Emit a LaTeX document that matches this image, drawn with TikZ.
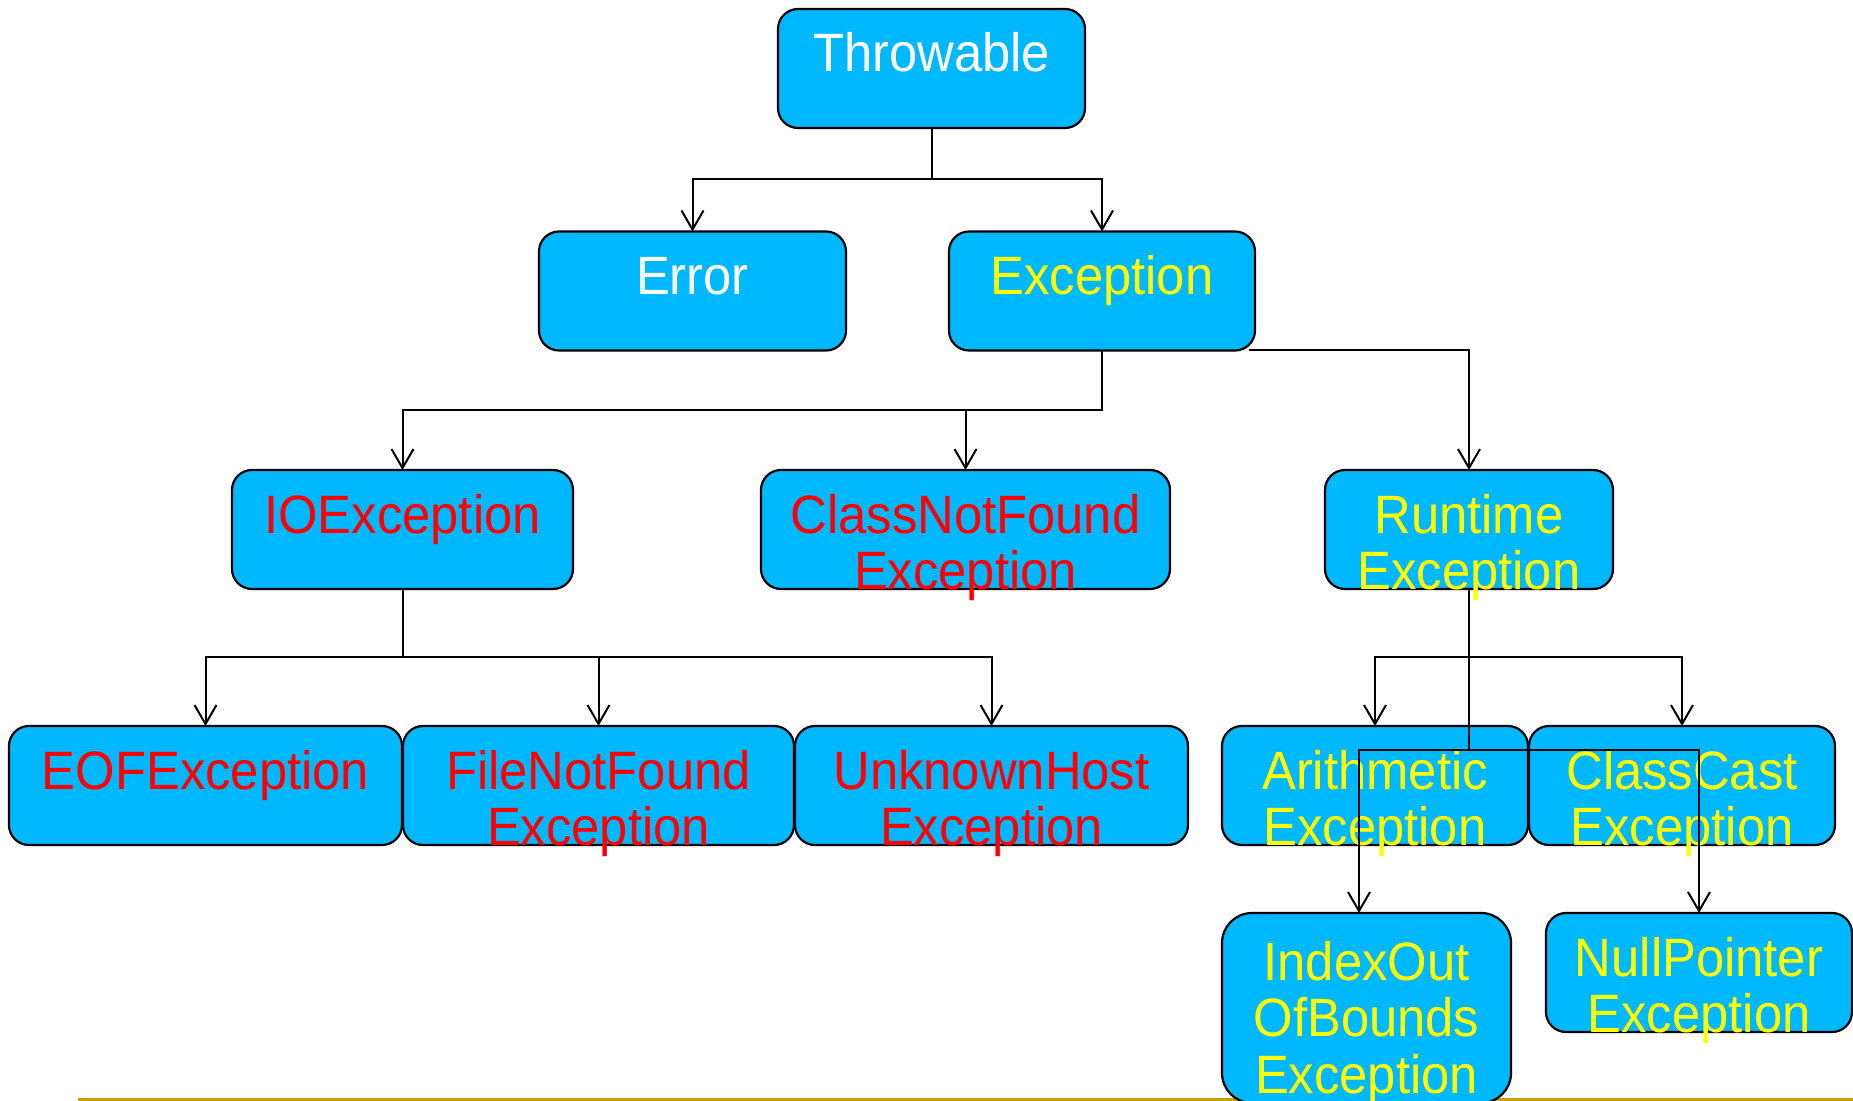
\documentclass[tikz,border=0pt]{standalone}
\usepackage{fontspec}
\setmainfont{Liberation Sans}[FakeStretch=0.94]
\usetikzlibrary{arrows.meta}
\definecolor{boxblue}{RGB}{0,184,255}
\definecolor{rulegold}{RGB}{204,160,0}
\definecolor{txtyellow}{RGB}{255,255,0}
\definecolor{txtred}{RGB}{255,0,0}

\begin{document}
\begin{tikzpicture}[x=0.5pt, y=-0.5pt,
        cls/.style={draw=black, line width=1.1pt, fill=boxblue, rounded corners=10pt,
            inner sep=0pt, outer sep=0pt, align=center, text height=31.5pt, text depth=28pt,
            font=\fontsize{27}{28.4}\selectfont},
        arr/.style={-{Straight Barb[length=9.5pt,width=11pt]}, line width=1pt}]
        \useasboundingbox (0,0) rectangle (1853,1101);
        \draw[rulegold, line width=1.5pt] (78,1099) -- (1853,1099);

        \node[cls, text width=153.5pt, text=white] (thr) at (931.5,68.5) {Throwable};
        \node[cls, text width=153.5pt, text=white] (err) at (692.5,291) {Error};
        \node[cls, text width=153pt, text=txtyellow] (exc) at (1102,291) {Exception};

        \node[cls, text width=170.5pt, text=txtred] (io) at (402.5,529.5) {IOException};
        \node[cls, text width=204.5pt, text=txtred] (cnf) at (965.5,529.5) {ClassNotFound\\Exception};
        \node[cls, text width=144pt, text=txtyellow] (rt) at (1469,529.5) {Runtime\\Exception};

        \node[cls, text width=196.5pt, text=txtred] (eof) at (205.5,785.5) {EOFException};
        \node[cls, text width=195.5pt, text=txtred] (fnf) at (598.5,785.5) {FileNotFound\\Exception};
        \node[cls, text width=196.5pt, text=txtred] (uh) at (991.5,785.5) {UnknownHost\\Exception};
        \node[cls, text width=153pt, text=txtyellow] (ar) at (1375,785.5) {Arithmetic\\Exception};
        \node[cls, text width=153pt, text=txtyellow] (cc) at (1682,785.5) {ClassCast\\Exception};

        \node[cls, text width=144.5pt, text=txtyellow, rounded corners=15pt,
            text height=33.5pt, text depth=61.5pt] (ioob) at (1366.5,1008) {IndexOut\\OfBounds\\Exception};
        \node[cls, text width=153pt, text=txtyellow] (np) at (1699,972.5) {NullPointer\\Exception};

        \draw[arr] (thr.south) -- ++(0,51) -| (err.north);
        \draw[arr] (thr.south) -- ++(0,51) -| (exc.north);

        \draw[arr] (exc.south) -- ++(0,60) -| (io.north);
        \draw[arr] (exc.south) -- ++(0,60) -| (cnf.north);
        \draw[arr] ([xshift=-3pt]exc.south east) -| (rt.north);

        \foreach \n in {eof,fnf,uh}
            \draw[arr] (io.south) -- ++(0,68) -| (\n.north);

        \draw[arr] (rt.south) -- ++(0,68) -| (ar.north);
        \draw[arr] (rt.south) -- ++(0,68) -| (cc.north);
        \draw[arr] (rt.south) -- ++(0,161) -| ([xshift=-3.75pt]ioob.north);
        \draw[arr] (rt.south) -- ++(0,161) -| (np.north);
    \end{tikzpicture}
\end{document}
